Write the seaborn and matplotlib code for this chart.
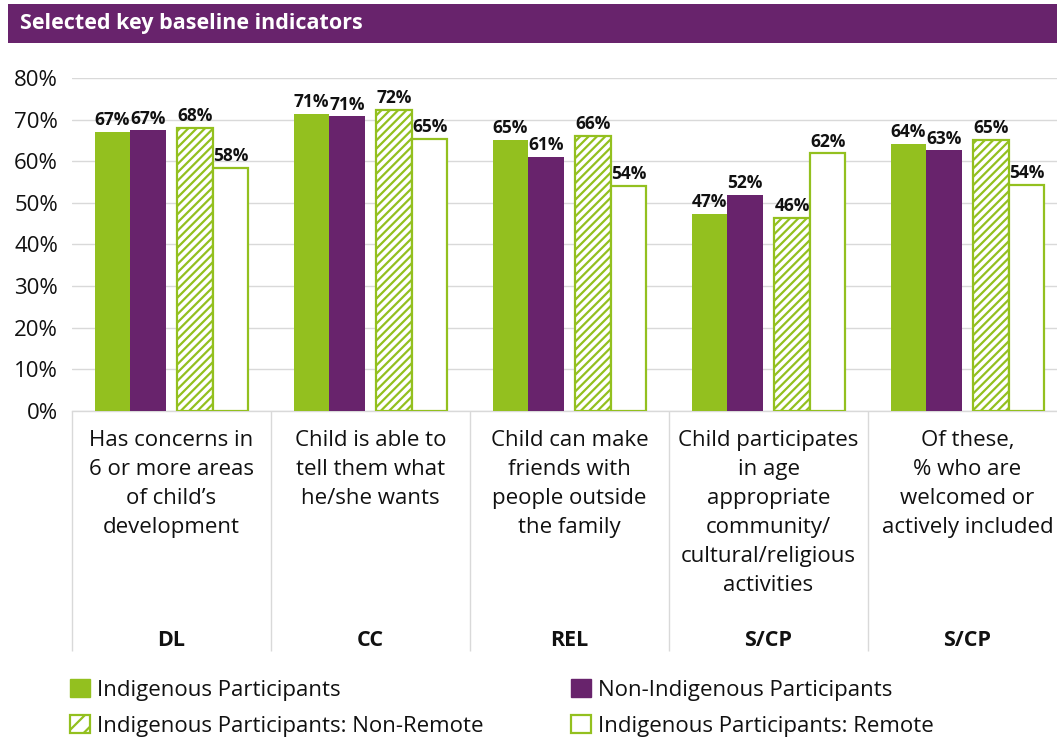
import numpy as np
import pandas as pd
import matplotlib
matplotlib.use("Agg")
import matplotlib.pyplot as plt
from matplotlib.patches import Patch, Rectangle
import seaborn as sns

# ---------------- data ----------------
categories = [
    "Has concerns in\n6 or more areas\nof child\u2019s\ndevelopment",
    "Child is able to\ntell them what\nhe/she wants",
    "Child can make\nfriends with\npeople outside\nthe family",
    "Child participates\nin age\nappropriate\ncommunity/\ncultural/religious\nactivities",
    "Of these,\n% who are\nwelcomed or\nactively included",
]
codes = ["DL", "CC", "REL", "S/CP", "S/CP"]
series = [
    "Indigenous Participants",
    "Non-Indigenous Participants",
    "Indigenous Participants: Non-Remote",
    "Indigenous Participants: Remote",
]
indigenous = [67.1, 71.4, 65.1, 47.4, 64.2]
non_indigenous = [67.4, 70.8, 61.1, 51.9, 62.6]
non_remote = [68.1, 72.3, 66.1, 46.3, 65.1]
remote = [58.4, 65.4, 54.1, 61.9, 54.4]
y_ticks = [0, 10, 20, 30, 40, 50, 60, 70, 80]
title = "Selected key baseline indicators"

GREEN = "#93C01F"
PURPLE = "#68236C"
GRID = "#D9D9D9"

sns.set_theme(style="white")
plt.rcParams["font.family"] = ["Open Sans", "DejaVu Sans"]
plt.rcParams["hatch.linewidth"] = 1.6

values = [indigenous, non_indigenous, non_remote, remote]
rows = []
for s, vals in zip(series, values):
    for c, v in zip(categories, vals):
        rows.append({"category": c, "series": s, "value": v})
df = pd.DataFrame(rows)

W, H = 1057, 738
fig = plt.figure(figsize=(W / 100, H / 100), dpi=100)
ax = fig.add_axes([72 / W, 1 - 411 / H, 995 / W, (411 - 78) / H])

sns.barplot(data=df, x="category", y="value", hue="series", hue_order=series,
            palette=[GREEN, PURPLE, "white", "white"], saturation=1,
            width=0.713, legend=False, ax=ax, zorder=3)

shifts = [-0.03, -0.03, 0.03, 0.03]
for i, cont in enumerate(ax.containers):
    for p in cont:
        p.set_x(p.get_x() + shifts[i])
        p.set_linewidth(0)
        if i == 2:
            p.set_facecolor("white")
            p.set_edgecolor(GREEN)
            p.set_hatch("////")
            p.set_linewidth(1.6)
        elif i == 3:
            p.set_facecolor("white")
            p.set_edgecolor(GREEN)
            p.set_linewidth(1.6)
    ax.bar_label(cont, labels=[f"{v:.0f}%" for v in values[i]], padding=2,
                 fontsize=12.5, fontweight="bold", color="#111111")

ax.set_ylim(0, 80)
ax.set_xlim(-0.5, 4.5)
ax.set_yticks(y_ticks)
ax.set_yticklabels([f"{t}%" for t in y_ticks], fontsize=16, color="#111111")
ax.yaxis.grid(True, color=GRID, linewidth=1, zorder=0)
ax.set_axisbelow(True)
ax.tick_params(axis="y", length=0, pad=10)
ax.set_xlabel("")
ax.set_ylabel("")
for s in ["top", "right", "left"]:
    ax.spines[s].set_visible(False)
ax.spines["bottom"].set_color(GRID)
ax.spines["bottom"].set_linewidth(1)

ax.set_xticks(range(len(categories)))
ax.set_xticklabels(categories, fontsize=16, color="#111111", linespacing=1.5)
ax.tick_params(axis="x", which="major", length=0, pad=14)
ax.set_xticks(np.arange(-0.5, len(categories)), minor=True)
ax.tick_params(axis="x", which="minor", bottom=True, length=173, width=1,
               color=GRID, direction="out")

trans = ax.get_xaxis_transform()
for i, c in enumerate(codes):
    ax.text(i, (411 - 641) / 333, c, transform=trans, ha="center", va="center",
            fontsize=15.5, fontweight="bold", color="#111111")

# title bar
fig.patches.append(Rectangle((8 / W, 1 - 43 / H), 1 - 8 / W, 39 / H,
                             transform=fig.transFigure, facecolor=PURPLE,
                             edgecolor="none", zorder=0))
fig.text(20 / W, 1 - 23.5 / H, title, color="white", fontsize=15.5,
         fontweight="bold", va="center", ha="left")

# legends
handles = [
    Patch(facecolor=GREEN, edgecolor=GREEN),
    Patch(facecolor=PURPLE, edgecolor=PURPLE),
    Patch(facecolor="white", edgecolor=GREEN, hatch="//", linewidth=1.6),
    Patch(facecolor="white", edgecolor=GREEN, linewidth=1.6),
]
kw = dict(frameon=False, fontsize=16, handlelength=0.9, handleheight=0.9,
          handletextpad=0.3, labelspacing=0.62, borderpad=0, borderaxespad=0,
          loc="upper left", labelcolor="#111111")
leg1 = fig.legend([handles[0], handles[2]], [series[0], series[2]],
                  bbox_to_anchor=(70 / W, 1 - 679 / H), **kw)
leg2 = fig.legend([handles[1], handles[3]], [series[1], series[3]],
                  bbox_to_anchor=(571 / W, 1 - 679 / H), **kw)

fig.savefig("out.png", dpi=100)
